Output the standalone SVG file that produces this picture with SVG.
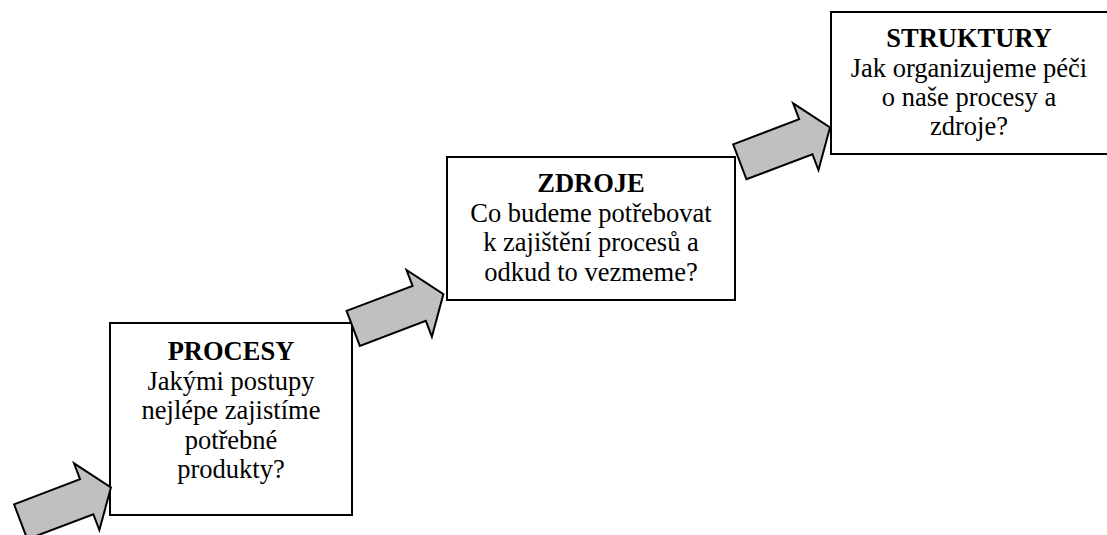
<svg xmlns="http://www.w3.org/2000/svg" width="1107" height="535" viewBox="0 0 1107 535">
  <style>
    .box { fill: #ffffff; stroke: #000000; stroke-width: 2; }
    .arrow { fill: #c0c0c0; stroke: #000000; stroke-width: 2; stroke-linejoin: miter; }
    .label { font-size: 26.5px; fill: #000000; text-anchor: middle; }
    .title { font-weight: bold; }
  </style>
  <defs>
    <!-- block arrow, axis along +x, tail centred on the origin -->
    <polygon id="blockArrow" class="arrow" points="0,-18.7 70.6,-18.7 70.6,-35.7 96.5,0 70.6,35.7 70.6,18.7 0,18.7"/>
  </defs>
  <rect width="1107" height="535" fill="#ffffff"/>

  <g id="node-procesy" font-family="'Liberation Serif', 'DejaVu Serif', serif">
    <rect class="box" x="110" y="323" width="242" height="192"/>
    <text class="label title" x="231" y="360">PROCESY</text>
    <text class="label" x="231" y="389.5">Jakými postupy</text>
    <text class="label" x="231" y="419">nejlépe zajistíme</text>
    <text class="label" x="231" y="448.5">potřebné</text>
    <text class="label" x="231" y="478">produkty?</text>
  </g>

  <g id="node-zdroje" font-family="'Liberation Serif', 'DejaVu Serif', serif">
    <rect class="box" x="447" y="157" width="288" height="143"/>
    <text class="label title" x="591" y="192">ZDROJE</text>
    <text class="label" x="591" y="221.5">Co budeme potřebovat</text>
    <text class="label" x="591" y="251">k zajištění procesů a</text>
    <text class="label" x="591" y="280.5">odkud to vezmeme?</text>
  </g>

  <g id="node-struktury" font-family="'Liberation Serif', 'DejaVu Serif', serif">
    <rect class="box" x="831" y="12" width="290" height="142"/>
    <text class="label title" x="969" y="47">STRUKTURY</text>
    <text class="label" x="969" y="76.5">Jak organizujeme péči</text>
    <text class="label" x="969" y="106">o naše procesy a</text>
    <text class="label" x="969" y="135">zdroje?</text>
  </g>

  <g id="connectors">
    <use href="#blockArrow" transform="translate(20.7 521.8) rotate(-20.8)"/>
    <use href="#blockArrow" transform="translate(353.2 328.4) rotate(-20.8)"/>
    <use href="#blockArrow" transform="translate(739.8 161.8) rotate(-20.8)"/>
  </g>
</svg>
